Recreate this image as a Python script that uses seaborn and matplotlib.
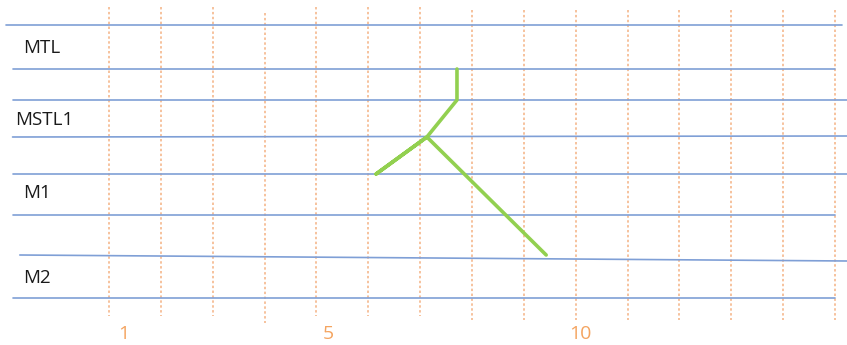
import matplotlib
matplotlib.use("Agg")
import matplotlib.pyplot as plt
import seaborn as sns
import pandas as pd

# -----------------------------
# Data
# -----------------------------
# dashed columns (column numbers), with their top / bottom ends
columns = list(range(1, 16))
col_top = [7, 7, 7, 13, 7, 7, 7, 10, 10, 10, 10, 10, 10, 10, 10]
col_bottom = [316, 316, 316, 323, 316, 316, 316, 320, 320, 320, 320, 320, 320, 320, 320]

# column labels and where they sit (column units)
col_labels = ["1", "5", "10"]
col_label_x = [1.29, 5.22, 10.08]

# horizontal rules: (left x, left y, right x, right y), x in column units
rule_x0 = [-0.99, -0.86, -0.86, -0.86, -0.86, -0.86, -0.72, -0.86]
rule_x1 = [15.14, 15.0, 15.23, 15.23, 15.23, 15.0, 15.23, 15.0]
rule_y0 = [25, 69, 100, 137, 174, 215, 255, 298]
rule_y1 = [25, 69, 100, 136, 174, 215, 261, 298]

# row names
row_names = ["MTL", "MSTL1", "M1", "M2"]
row_name_x = [-0.66, -0.81, -0.66, -0.66]
row_name_y = [48, 120, 193, 278]

# green tree path
tree_x = [7.71, 7.71, 7.13, 6.15, 7.13, 9.43]
tree_y = [69, 100, 137, 174, 137, 255]

# -----------------------------
# Plot
# -----------------------------
sns.set_style("white")
plt.rcParams['font.family'] = ['Open Sans', 'DejaVu Sans']

fig = plt.figure(figsize=(8.47, 3.45), dpi=100)
ax = fig.add_axes([0, 0, 1, 1])

for c, t, b in zip(columns, col_top, col_bottom):
    ax.plot([c, c], [t, b], color="#F4B183", linestyle=(0, (1.6, 1.6)), linewidth=1.1)

for x0, x1, y0, y1 in zip(rule_x0, rule_x1, rule_y0, rule_y1):
    ax.plot([x0, x1], [y0, y1], color="#7F9FD6", linewidth=1.2)

for name, x, y in zip(row_names, row_name_x, row_name_y):
    ax.text(x, y, name, fontsize=13.5, color="#1a1a1a", va="center", ha="left")

for label, x in zip(col_labels, col_label_x):
    ax.text(x, 334, label, fontsize=14, color="#F4A460", va="center", ha="center")

tree = pd.DataFrame({"x": tree_x, "y": tree_y, "step": range(len(tree_x))})
sns.lineplot(data=tree, x="x", y="y", sort=False, estimator=None,
             color="#92D050", linewidth=2.6, ax=ax)

ax.set_xlim(-1.102, 15.231)
ax.set_ylim(345, 0)
ax.axis("off")

plt.savefig("out.png", dpi=100)
